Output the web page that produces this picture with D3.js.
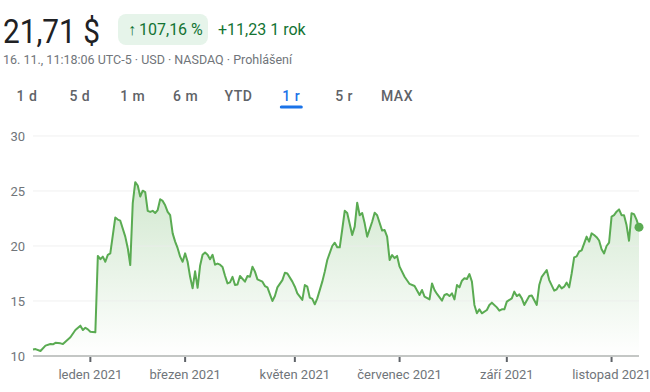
<!DOCTYPE html>
<html>
<head>
<meta charset="utf-8">
<script src="https://cdn.jsdelivr.net/npm/d3@7"></script>
<style>
  body { margin: 0; background: #fff; }
  svg { display: block; font-family: Roboto, "Noto Sans", Arial, sans-serif; }
</style>
</head>
<body>
<svg id="chart" width="650" height="392"></svg>
<script>
// trading-day index (0 = start of range) and closing price
const days = [0, 1, 3, 5, 7, 8, 9, 11, 12, 13, 15, 17, 19, 20, 21, 22, 23, 25,
  26, 27, 28, 29, 30, 31, 33, 34, 35, 37, 38, 39, 40, 41, 42, 43, 44, 45, 46, 47, 48, 49, 50,
  51, 52, 53, 54, 55, 56, 57, 58, 59, 60, 61, 62, 63, 64, 65, 66, 67, 68, 69, 70,
  71, 72, 73, 74, 75, 76, 77, 78, 79, 80, 81, 82, 83, 85, 86, 87, 88, 89, 90,
  92, 93, 94, 96, 97, 98, 100, 101, 102, 104, 105, 106, 108, 109, 110, 111, 112, 113, 114,
  116, 117, 118, 120, 121, 122, 123, 124, 125, 126, 128, 129, 130, 131, 132, 133, 134,
  136, 137, 138, 140, 141, 142, 143, 144, 145, 146, 147, 149, 151, 153, 155, 156, 157, 159,
  160, 161, 162, 164, 165, 166, 167, 168, 169, 170, 171, 172, 173, 174, 175, 176, 177, 178,
  179, 180, 182, 183, 184, 186, 187, 188, 189, 190, 192, 193, 194, 195, 196, 197, 199, 200,
  202, 203, 204, 206, 207, 209, 210, 211, 212, 213, 214, 215, 216, 217, 218, 219, 220,
  222, 223, 224, 225, 226, 227, 228, 229, 230, 231, 232, 233, 234, 235, 236, 237, 238, 239,
  240, 241, 242, 243];
const prices = [10.6, 10.63, 10.45, 10.94, 11.09, 11.06, 11.2, 11.15, 11.09, 11.3, 11.7, 12.36, 12.76, 12.36, 12.57, 12.42, 12.2, 12.15,
  19.1, 18.8, 19.03, 18.57, 19.2, 19.33, 22.6, 22.4, 22.3, 20.85, 19.8, 18.27, 23.9, 25.8, 25.5, 24.5, 25.03, 24.9, 23.2, 23.1, 23.2, 23.0, 23.27,
  24.25, 24.1, 23.7, 23.1, 22.8, 21.15, 20.4, 19.8, 19.03, 18.57, 19.33, 18.57, 17.2, 16.15, 17.7, 16.2, 18.2, 19.2, 19.4, 19.2,
  18.8, 19.2, 18.3, 18.4, 18.3, 18.1, 17.3, 16.6, 16.7, 17.2, 16.45, 16.5, 17.27, 16.76, 17.27, 17.2, 18.12, 17.67, 16.97,
  16.76, 16.36, 16.24, 15.0, 15.45, 16.24, 16.9, 17.57, 17.5, 16.76, 16.3, 15.7, 15.1, 16.45, 16.3, 15.3, 15.2, 14.7, 15.24,
  16.76, 17.67, 18.73, 20.0, 20.3, 19.88, 19.88, 21.5, 23.2, 23.0, 21.0, 21.76, 23.94, 22.8, 23.0, 22.06, 20.85,
  22.2, 23.03, 22.8, 21.4, 21.45, 20.85, 18.73, 19.18, 18.9, 19.1, 18.12, 17.2, 16.55, 16.36, 15.55, 16.0, 15.4, 15.15,
  16.6, 16.0, 15.64, 15.03, 15.55, 15.64, 15.45, 15.7, 15.15, 16.45, 16.24, 16.85, 17.06, 17.0, 17.45, 16.76, 14.64, 13.88,
  14.24, 13.88, 14.18, 14.64, 14.85, 14.42, 14.12, 14.24, 14.24, 14.94, 15.24, 15.85, 15.45, 15.6, 15.24, 14.64, 15.45, 15.5,
  14.64, 16.45, 17.2, 17.82, 16.9, 15.94, 16.06, 16.45, 16.15, 16.3, 16.67, 16.24, 17.5, 18.97, 19.06, 19.5, 19.6,
  20.85, 20.4, 21.15, 21.0, 20.8, 20.5, 19.7, 19.33, 20.0, 20.3, 22.67, 22.8, 23.12, 23.33, 22.8, 22.8, 21.9, 20.48,
  22.97, 22.9, 22.4, 21.71];

const lastDay = 243;
const yTicks = [10, 15, 20, 25, 30];
const monthDays = [23, 61, 105, 147, 190, 232];
const monthLabels = ["leden 2021", "březen 2021", "květen 2021", "červenec 2021", "září 2021", "listopad 2021"];
const ranges = ["1 d", "5 d", "1 m", "6 m", "YTD", "1 r", "5 r", "MAX"];
const activeRange = "1 r";

const data = days.map((d, i) => ({day: d, price: prices[i]}));

const svg = d3.select("#chart");
const margin = {top: 136, right: 12, bottom: 36, left: 33};
const W = 650, H = 392;
const lineColor = "#5aab52";

// ---- header ----
svg.append("text")
  .attr("x", 3).attr("y", 43)
  .attr("textLength", 97)
  .attr("lengthAdjust", "spacingAndGlyphs")
  .style("font-size", "34px")
  .style("fill", "#202124")
  .text("21,71 $");

svg.append("rect")
  .attr("x", 118).attr("y", 14)
  .attr("width", 90).attr("height", 31)
  .attr("rx", 8)
  .style("fill", "#e6f4ea");
svg.append("text")
  .attr("x", 128).attr("y", 35)
  .style("font-size", "16px")
  .style("font-weight", 500)
  .style("fill", "#137333")
  .text("↑");
svg.append("text")
  .attr("x", 139).attr("y", 35)
  .style("font-size", "16px")
  .style("fill", "#137333")
  .text("107,16 %");
svg.append("text")
  .attr("x", 218).attr("y", 35)
  .style("font-size", "16px")
  .style("fill", "#137333")
  .text("+11,23 1 rok");

svg.append("text")
  .attr("x", 3).attr("y", 64)
  .style("font-size", "12.5px")
  .style("fill", "#70757a")
  .text("16. 11., 11:18:06 UTC-5 · USD · NASDAQ · Prohlášení");

// range buttons
const rangeX = d3.scalePoint().domain(ranges).range([27, 397]);
svg.append("g").selectAll("text")
  .data(ranges)
  .enter()
  .append("text")
    .attr("x", d => rangeX(d))
    .attr("y", 101)
    .attr("text-anchor", "middle")
    .style("font-size", "14px")
    .style("font-weight", 500)
    .style("letter-spacing", "0.5px")
    .style("fill", d => d === activeRange ? "#1a73e8" : "#5f6368")
    .text(d => d);
svg.append("line")
  .attr("x1", rangeX(activeRange) - 10).attr("x2", rangeX(activeRange) + 10)
  .attr("y1", 107).attr("y2", 107)
  .style("stroke", "#1a73e8")
  .style("stroke-width", 3)
  .style("stroke-linecap", "round");

// ---- chart ----
const x = d3.scaleLinear().domain([0, lastDay]).range([margin.left, 639]);
const y = d3.scaleLinear().domain([10, 30]).range([H - margin.bottom, margin.top]);

const defs = svg.append("defs");
const grad = defs.append("linearGradient")
  .attr("id", "areaGrad")
  .attr("gradientUnits", "userSpaceOnUse")
  .attr("x1", 0).attr("x2", 0)
  .attr("y1", y(26)).attr("y2", y(10));
grad.append("stop").attr("offset", "0%").attr("stop-color", lineColor).attr("stop-opacity", 0.28);
grad.append("stop").attr("offset", "100%").attr("stop-color", lineColor).attr("stop-opacity", 0);

const area = d3.area()
  .x(d => x(d.day))
  .y0(y(10))
  .y1(d => y(d.price));
svg.append("path")
  .datum(data)
  .attr("d", area)
  .style("fill", "url(#areaGrad)");

// gridlines
svg.append("g")
  .selectAll("line")
  .data(yTicks.slice(1))
  .enter()
  .append("line")
    .attr("x1", x(0)).attr("x2", x(lastDay))
    .attr("y1", d => y(d)).attr("y2", d => y(d))
    .style("stroke", "#ececec")
    .style("stroke-opacity", 0.8)
    .style("stroke-width", 1);

// y labels
svg.append("g")
  .selectAll("text")
  .data(yTicks)
  .enter()
  .append("text")
    .attr("x", 25)
    .attr("y", d => y(d))
    .attr("dy", "0.35em")
    .attr("text-anchor", "end")
    .style("font-size", "13px")
    .style("fill", "#70757a")
    .text(d => d);

// line
const line = d3.line()
  .x(d => x(d.day))
  .y(d => y(d.price));
svg.append("path")
  .datum(data)
  .attr("d", line)
  .style("fill", "none")
  .style("stroke", lineColor)
  .style("stroke-width", 2)
  .style("stroke-linejoin", "round");

// x axis baseline and ticks
svg.append("line")
  .attr("x1", x(0)).attr("x2", x(lastDay))
  .attr("y1", y(10)).attr("y2", y(10))
  .style("stroke", "#c4c7c5")
  .style("stroke-width", 2);

const ticks = svg.append("g");
ticks.selectAll("line")
  .data(monthDays)
  .enter()
  .append("line")
    .attr("x1", d => x(d)).attr("x2", d => x(d))
    .attr("y1", y(10) + 1).attr("y2", y(10) + 6)
    .style("stroke", "#5f6368")
    .style("stroke-width", 2);
ticks.selectAll("text")
  .data(monthDays)
  .enter()
  .append("text")
    .attr("x", d => x(d))
    .attr("y", y(10) + 23)
    .attr("text-anchor", "middle")
    .style("font-size", "13px")
    .style("fill", "#70757a")
    .text((d, i) => monthLabels[i]);

// end dot
const last = data[data.length - 1];
svg.append("circle")
  .attr("cx", x(last.day))
  .attr("cy", y(last.price))
  .attr("r", 4.5)
  .style("fill", lineColor);
</script>
</body>
</html>
